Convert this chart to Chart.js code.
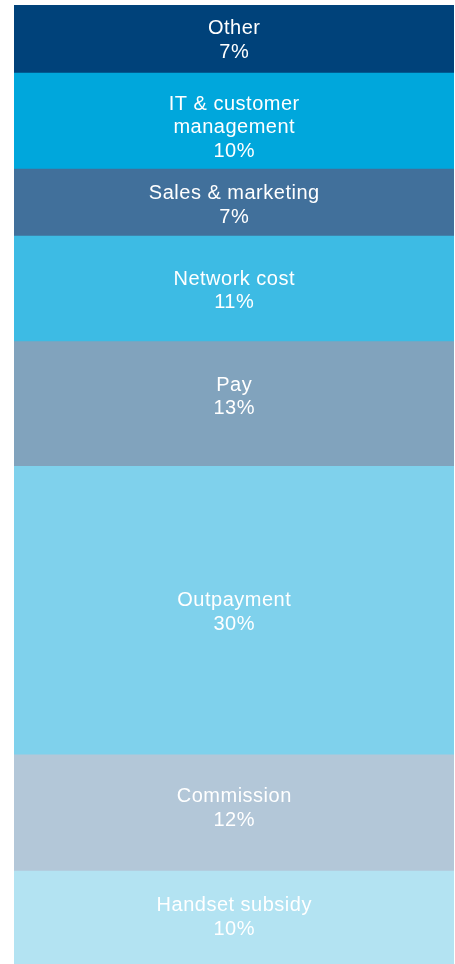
<!DOCTYPE html>
<html>
<head>
<meta charset="utf-8">
<script src="https://cdn.jsdelivr.net/npm/chart.js@4.4.0/dist/chart.umd.min.js"></script>
<style>
  html, body { margin: 0; padding: 0; background: #fff; }
  #wrap { width: 455px; height: 964px; position: relative; }
</style>
</head>
<body>
<div id="wrap"><canvas id="costChart"></canvas></div>
<script>
// Cost breakdown, bottom of the stack first (heights)
const categorias = ['Handset subsidy', 'Commission', 'Outpayment', 'Pay', 'Network cost', 'Sales & marketing', 'IT & customer management', 'Other'];
const valores = [9.7, 12.1, 30.1, 13.0, 11.0, 7.0, 10.0, 7.1];
const etiquetas = [
    ['Handset subsidy', '10%'],
    ['Commission', '12%'],
    ['Outpayment', '30%'],
    ['Pay', '13%'],
    ['Network cost', '11%'],
    ['Sales & marketing', '7%'],
    ['IT & customer', 'management', '10%'],
    ['Other', '7%']
];
const colores = ['#b3e3f2', '#b3c7d8', '#7fd1ec', '#81a3bd', '#3dbbe4', '#41709b', '#00a7dc', '#00427a'];

// texto dentro de cada segmento (con pequeños ajustes verticales)
const ajusteY = [-1.5, -6.5, 0, -8.5, 0.5, 1.5, 5, -0.5];
const etiquetasPlugin = {
    id: 'etiquetas',
    afterDatasetsDraw(chart) {
        const ctx = chart.ctx;
        ctx.save();
        ctx.fillStyle = '#ffffff';
        ctx.font = '20px "Liberation Sans", Arial, sans-serif';
        ctx.letterSpacing = '0.5px';
        ctx.textAlign = 'center';
        ctx.textBaseline = 'alphabetic';
        const lh = 23.7;
        const capMid = 7.2;
        chart.data.datasets.forEach((ds, i) => {
            const bar = chart.getDatasetMeta(i).data[0];
            const lineas = etiquetas[i];
            const cy = (bar.y + bar.base) / 2 + ajusteY[i];
            const y0 = cy - (lineas.length - 1) * lh / 2;
            lineas.forEach((t, j) => ctx.fillText(t, bar.x + 0.25, y0 + j * lh + capMid));
        });
        ctx.restore();
    }
};

new Chart(document.getElementById('costChart'), {
    type: 'bar',
    data: {
        labels: ['Costs'],
        datasets: categorias.map((c, i) => ({
            label: c,
            data: [valores[i]],
            backgroundColor: colores[i],
            borderWidth: 0,
            categoryPercentage: 1,
            barPercentage: 1
        }))
    },
    options: {
        responsive: true,
        maintainAspectRatio: false,
        animation: false,
        layout: { padding: { left: 14, right: 1, top: 5, bottom: 0 } },
        plugins: { legend: { display: false }, tooltip: { enabled: false } },
        scales: {
            x: { stacked: true, display: false },
            y: { stacked: true, display: false, min: 0, max: 100 }
        }
    },
    plugins: [etiquetasPlugin]
});
</script>
</body>
</html>
